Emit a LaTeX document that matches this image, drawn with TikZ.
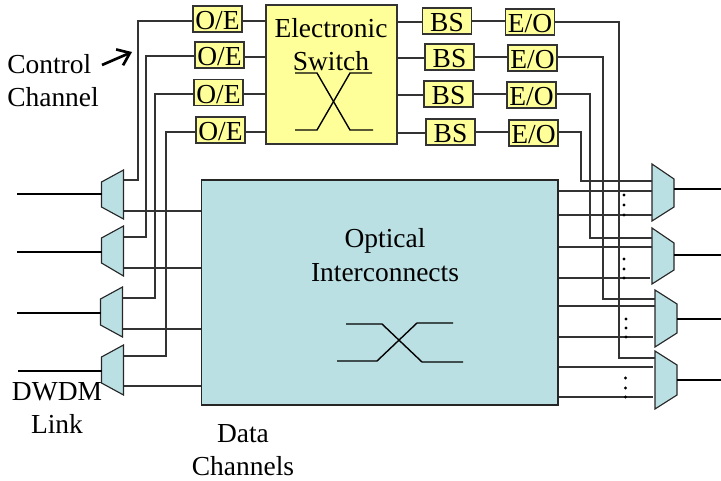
\documentclass[tikz,border=0pt]{standalone}
\usepackage{fontspec}
\setmainfont{Liberation Serif}
\usetikzlibrary{arrows.meta}
\definecolor{boxyellow}{HTML}{FFFF99}
\definecolor{boxteal}{HTML}{BBE0E3}
\definecolor{edgegray}{HTML}{333333}
\tikzset{
  lbl/.style={font=\fontsize{20.6}{24.75}\selectfont,inner sep=0pt,text=black},
  tlabel/.style={lbl,align=center,anchor=base},
  smallbox/.style={lbl,draw=edgegray,line width=1.1pt,fill=boxyellow,minimum width=37pt,minimum height=19.5pt,text height=16.5pt,text depth=0pt},
  bigyellow/.style={draw=edgegray,line width=1.1pt,fill=boxyellow,inner sep=0pt},
  bigteal/.style={draw=black!85,line width=1pt,fill=boxteal,inner sep=0pt},
  trap/.style={draw=black!85,line width=0.85pt,fill=boxteal,line join=miter},
  wire/.style={draw=black!80,line width=0.9pt},
  heavy/.style={draw=black,line width=1.05pt},
  dotmark/.style={circle,fill=black,minimum size=2.3pt,inner sep=0pt},
}
\begin{document}
\begin{tikzpicture}[x=0.75pt,y=-0.75pt]
\useasboundingbox (0,0) rectangle (721,481);
% big boxes
\node[bigyellow,minimum width=98pt,minimum height=104pt] (sw) at (331.5,74.5) {};
\node[bigteal,minimum width=267.5pt,minimum height=168.5pt] (oi) at (379.5,292.5) {};
% small boxes
\node[smallbox] (oe1) at (217.5,19) {O/E};
\node[smallbox] (oe2) at (219.5,55) {O/E};
\node[smallbox] (oe3) at (218.5,92.5) {O/E};
\node[smallbox] (oe4) at (220.5,130) {O/E};
\node[smallbox] (bs1) at (447,21) {BS};
\node[smallbox] (bs2) at (449.5,57) {BS};
\node[smallbox] (bs3) at (448.5,94) {BS};
\node[smallbox] (bs4) at (450.5,132) {BS};
\node[smallbox] (eo1) at (530,22) {E/O};
\node[smallbox] (eo2) at (532.5,58) {E/O};
\node[smallbox] (eo3) at (531.5,95) {E/O};
\node[smallbox] (eo4) at (533.5,133) {E/O};
% demultiplexers
\draw[trap] (101.5,182) -- (123.5,170) -- (123.5,219) -- (101.5,207) -- cycle;
\draw[trap] (101.5,238) -- (123.5,226) -- (123.5,276) -- (101.5,263) -- cycle;
\draw[trap] (100.5,299) -- (122.5,287) -- (122.5,337) -- (100.5,325) -- cycle;
\draw[trap] (101.5,357) -- (123.5,345) -- (123.5,395) -- (101.5,383) -- cycle;
% multiplexers
\draw[trap] (652,164) -- (674,179) -- (674,207) -- (652,221) -- cycle;
\draw[trap] (652,228) -- (674,243) -- (674,270) -- (652,284) -- cycle;
\draw[trap] (655,290) -- (677,304) -- (677,333) -- (655,347) -- cycle;
\draw[trap] (655,351) -- (677,365) -- (677,395) -- (655,409) -- cycle;
% named ports
\coordinate (dA) at (123.5,180); \coordinate (dB) at (123.5,237);
\coordinate (dC) at (122.5,298); \coordinate (dD) at (123.5,356);
\coordinate (bA) at (138,21); \coordinate (bB) at (146,56);
\coordinate (bC) at (155,94); \coordinate (bD) at (166,132);
\coordinate (mA) at (652,181); \coordinate (mB) at (652,238);
\coordinate (mC) at (655,299); \coordinate (mD) at (655,358);
\coordinate (rA) at (581,132); \coordinate (rB) at (590,94);
\coordinate (rC) at (603,57); \coordinate (rD) at (619,22);
% control channels, inputs
\draw[wire] (oe1.west |- bA) -- (bA) -- (bA |- dA) -- (dA);
\draw[wire] (oe2.west |- bB) -- (bB) -- (bB |- dB) -- (dB);
\draw[wire] (oe3.west |- bC) -- (bC) -- (bC |- dC) -- (dC);
\draw[wire] (oe4.west |- bD) -- (bD) -- (bD |- dD) -- (dD);
% control channels, outputs
\draw[wire] (eo4.east |- rA) -- (rA) -- (rA |- mA) -- (mA);
\draw[wire] (eo3.east |- rB) -- (rB) -- (rB |- mB) -- (mB);
\draw[wire] (eo2.east |- rC) -- (rC) -- (rC |- mC) -- (mC);
\draw[wire] (eo1.east |- rD) -- (rD) -- (rD |- mD) -- (mD);
% switch links
\foreach \a/\b/\ya/\yb in {oe1/sw/21/21,oe2/sw/57/57,oe3/sw/94/94,oe4/sw/132/132}
  \draw[wire] (\a.east |- 0,\ya) -- (\b.west |- 0,\yb);
\foreach \a/\y in {bs1/22,bs2/58,bs3/95,bs4/133}
  \draw[wire] (sw.east |- 0,\y) -- (\a.west |- 0,\y);
\draw[wire] (bs1.east |- 0,21) -- (eo1.west |- 0,21);
\draw[wire] (bs2.east |- 0,57) -- (eo2.west |- 0,57);
\draw[wire] (bs3.east |- 0,94) -- (eo3.west |- 0,94);
\draw[wire] (bs4.east |- 0,132) -- (eo4.west |- 0,132);
% data channels, left
\foreach \x/\y in {123.5/211,123.5/268,122.5/329,123.5/386}
  \draw[wire] (\x,\y) -- (oi.west |- 0,\y);
% data channels, right
\foreach \x/\y in {652/191,652/215,652/247,650/278,655/306,653/337,653/367,653/397}
  \draw[wire] (oi.east |- 0,\y) -- (\x,\y);
% links
\coordinate (lA) at (17,194); \coordinate (lB) at (17,252);
\coordinate (lC) at (17,313); \coordinate (lD) at (18,371);
\draw[heavy] (lA) -- (101.5,194);
\draw[heavy] (lB) -- (101.5,252);
\draw[heavy] (lC) -- (100.5,313);
\draw[heavy] (lD) -- (101.5,371);
\coordinate (oA) at (721,189); \coordinate (oB) at (721,255);
\coordinate (oC) at (721,319); \coordinate (oD) at (721,380);
\draw[heavy] (674,189) -- (oA);
\draw[heavy] (674,255) -- (oB);
\draw[heavy] (677,319) -- (oC);
\draw[heavy] (677,380) -- (oD);
% crossings
\draw[heavy] (295,73) -- (317,73) -- (350,130) -- (373,130);
\draw[heavy] (295,130) -- (317,130) -- (350,73) -- (372,73);
\draw[heavy] (346,324) -- (382,324) -- (422,362) -- (463,362);
\draw[heavy] (337,361) -- (377,361) -- (417,323) -- (453,323);
% dots
\foreach \x/\y in {624/195,624/205,624/215,624/259,624/269,624/278,626/319,626/328,626/337,625.5/378,625.5/388,625.5/397}
  \node[dotmark] at (\x,\y) {};
% arrow
\coordinate (arrowtail) at (102,65);
\coordinate (arrowtip) at (132,52);
\draw[line width=2pt,-{Straight Barb[length=8.5pt,width=13pt]}] (arrowtail) -- (arrowtip);
% labels
\node[tlabel,align=left,anchor=base west] (ctl) at (7,107) {Control\\Channel};
\node[tlabel] (est) at (331,71) {Electronic\\Switch};
\node[tlabel] (opt) at (385,281) {Optical\\Interconnects};
\node[tlabel] (dw) at (57,433) {DWDM\\Link};
\node[tlabel] (dc) at (243,475) {Data\\Channels};
\end{tikzpicture}
\end{document}
